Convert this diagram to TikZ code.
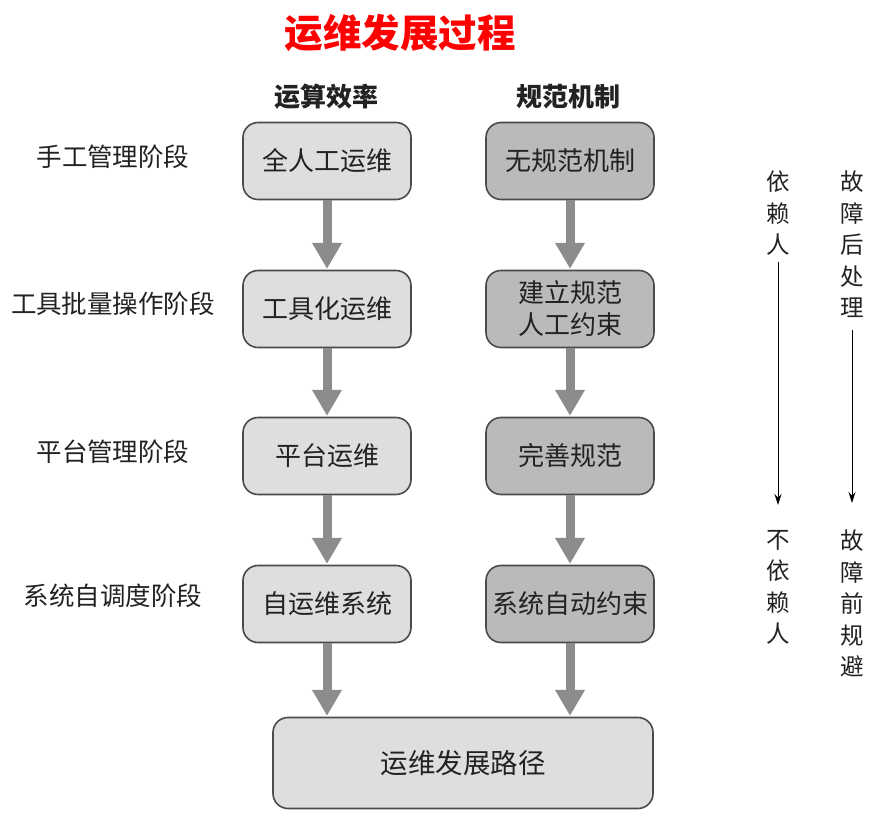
\documentclass[tikz,border=0pt]{standalone}
\usepackage{fontspec}
\setmainfont{Noto Sans CJK SC}
\usetikzlibrary{arrows.meta}
\definecolor{boxL}{HTML}{DEDEDE}
\definecolor{boxR}{HTML}{BABABA}
\definecolor{edge}{HTML}{4A4A4A}
\definecolor{arr}{HTML}{8C8C8C}
\definecolor{txt}{HTML}{222222}
\tikzset{
  boxl/.style={draw=edge,line width=1.6pt,rounded corners=15pt,fill=boxL,minimum width=168pt,minimum height=77pt,align=center,font=\fontsize{26}{32}\selectfont,text=txt,inner sep=2pt},
  boxr/.style={boxl,fill=boxR},
  stage/.style={font=\fontsize{25.5}{30}\selectfont,text=txt},
  head/.style={font=\bfseries\fontsize{26}{30}\selectfont,text=txt},
  vtext/.style={align=center,font=\fontsize{23.5}{31.5}\selectfont,text=txt,inner sep=0pt},
  bigarrow/.style={draw=arr,line width=9pt,-{Triangle[width=28pt,length=26pt,fill=arr]},shorten >=0.8pt},
  thinarrow/.style={draw=black,line width=0.9pt,-{Stealth[width=7pt,length=11pt]}}
}
\begin{document}
\begin{tikzpicture}[x=1pt,y=-1pt]
\useasboundingbox[fill=white] (0,0) rectangle (876,826);
\node[font=\bfseries\fontsize{38.5}{42}\selectfont,text=red] (title) at (400,33) {运维发展过程};
\node[head] (h1) at (326,97) {运算效率};
\node[head] (h2) at (568,97) {规范机制};

\node[stage] (s1) at (113,157) {手工管理阶段};
\node[stage] (s2) at (113,304) {工具批量操作阶段};
\node[stage] (s3) at (113,452) {平台管理阶段};
\node[stage] (s4) at (113,596) {系统自调度阶段};

\node[boxl] (l1) at (327,161) {全人工运维};
\node[boxl] (l2) at (327,309) {工具化运维};
\node[boxl] (l3) at (327,456) {平台运维};
\node[boxl] (l4) at (327,604) {自运维系统};

\node[boxr] (r1) at (570,161) {无规范机制};
\node[boxr] (r2) at (570,309) {建立规范\\人工约束};
\node[boxr] (r3) at (570,456) {完善规范};
\node[boxr] (r4) at (570,604) {系统自动约束};

\node[boxl,minimum width=380pt,minimum height=91pt,font=\fontsize{27.5}{32}\selectfont] (bot) at (463,763) {运维发展路径};

\draw[bigarrow] (l1.south) -- (l2.north);
\draw[bigarrow] (l2.south) -- (l3.north);
\draw[bigarrow] (l3.south) -- (l4.north);
\draw[bigarrow] (r1.south) -- (r2.north);
\draw[bigarrow] (r2.south) -- (r3.north);
\draw[bigarrow] (r3.south) -- (r4.north);
\draw[bigarrow] (l4.south) -- (l4.south |- bot.north);
\draw[bigarrow] (r4.south) -- (r4.south |- bot.north);

\node[vtext,anchor=north] (a1) at (778,171) {依\\赖\\人};
\node[vtext,anchor=north] (a2) at (778,530) {不\\依\\赖\\人};
\node[vtext,anchor=north] (b1) at (852,171) {故\\障\\后\\处\\理};
\node[vtext,anchor=north] (b2) at (852,530) {故\\障\\前\\规\\避};
\coordinate (a1s) at (778,262);
\coordinate (a1e) at (778,505);
\coordinate (b1s) at (852,330);
\coordinate (b1e) at (852,503);
\draw[thinarrow] (a1s) -- (a1e);
\draw[thinarrow] (b1s) -- (b1e);
\end{tikzpicture}
\end{document}
